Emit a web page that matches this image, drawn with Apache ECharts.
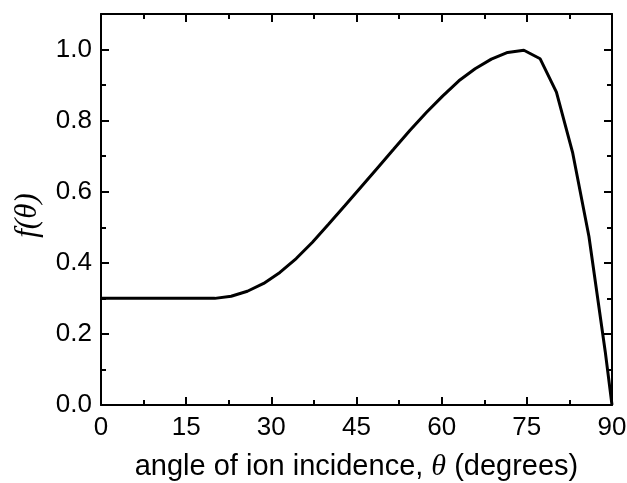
<!DOCTYPE html>
<html>
<head>
<meta charset="utf-8">
<script src="https://cdn.jsdelivr.net/npm/echarts@6/dist/echarts.min.js"></script>
<style>html,body{margin:0;padding:0;background:#fff}#c{width:627px;height:483px}</style>
</head>
<body>
<div id="c"></div>
<script>
// angle of ion incidence (degrees)
var angles = [0, 2.86, 5.73, 8.59, 11.46, 14.32, 17.19, 20.05, 22.92, 25.78, 28.65, 31.51, 34.38, 37.24, 40.11, 42.97, 45.84, 48.70, 51.57, 54.43, 57.30, 60.16, 63.03, 65.89, 68.75, 71.62, 74.48, 77.35, 80.21, 83.08, 85.94, 88.81, 90];
// f(theta)
var fvals = [0.3, 0.3, 0.3, 0.3, 0.3, 0.3, 0.3, 0.3, 0.306, 0.320, 0.342, 0.373, 0.412, 0.458, 0.509, 0.561, 0.614, 0.667, 0.720, 0.773, 0.823, 0.869, 0.912, 0.946, 0.973, 0.992, 0.998, 0.974, 0.880, 0.709, 0.474, 0.15, 0];
var xTicks = [0, 15, 30, 45, 60, 75, 90];
var yTicks = [0.0, 0.2, 0.4, 0.6, 0.8, 1.0];

var data = angles.map(function (a, i) { return [a, fvals[i]]; });
var sans = 'Liberation Sans, Arial, sans-serif';
var serif = 'Liberation Serif, Times New Roman, serif';
var lineStyle = { color: '#000', width: 2 };

function xAx(pos, labels) {
  return {
    type: 'value', position: pos, min: 0, max: 90, interval: 15,
    axisLine: { show: true, onZero: false, lineStyle: lineStyle },
    axisTick: { show: true, inside: true, length: 8, lineStyle: lineStyle },
    minorTick: { show: true, splitNumber: 2, length: 5, lineStyle: lineStyle },
    splitLine: { show: false }, minorSplitLine: { show: false },
    axisLabel: labels ? { color: '#000', fontSize: 26, fontFamily: sans, margin: 10,
      formatter: function (v) { return xTicks.indexOf(v) >= 0 ? String(v) : ''; } } : { show: false }
  };
}
function yAx(pos, labels) {
  return {
    type: 'value', position: pos, min: 0, max: 1.1, interval: 0.2,
    axisLine: { show: true, onZero: false, lineStyle: lineStyle },
    axisTick: { show: true, inside: true, length: 8, lineStyle: lineStyle },
    minorTick: { show: true, splitNumber: 2, length: 5, lineStyle: lineStyle },
    splitLine: { show: false }, minorSplitLine: { show: false },
    axisLabel: labels ? { color: '#000', fontSize: 26, fontFamily: sans, margin: 9,
      formatter: function (v) {
        for (var i = 0; i < yTicks.length; i++) { if (Math.abs(yTicks[i] - v) < 1e-6) return yTicks[i].toFixed(1); }
        return '';
      } } : { show: false }
  };
}

var xb = xAx('bottom', true);
xb.name = '{a|angle of ion incidence, }{t|θ}{a| (degrees)}';
xb.nameLocation = 'middle';
xb.nameGap = 47;
xb.nameTextStyle = { rich: {
  a: { fontSize: 29, fontFamily: sans, color: '#000' },
  t: { fontSize: 30, fontFamily: serif, fontStyle: 'italic', color: '#000' } } };
var yl = yAx('left', true);
yl.name = '{t|f(θ)}';
yl.nameLocation = 'middle';
yl.nameGap = 58;
yl.nameRotate = 90;
yl.nameTextStyle = { padding: [0, 12, 0, 0], rich: { t: { fontSize: 31, fontFamily: serif, fontStyle: 'italic', color: '#000' } } };

var chart = echarts.init(document.getElementById('c'), null, { renderer: 'canvas' });
chart.setOption({
  animation: false,
  backgroundColor: '#fff',
  grid: { left: 101, right: 15, top: 14, bottom: 78, containLabel: false, outerBoundsMode: 'none' },
  xAxis: [xb, xAx('top', false)],
  yAxis: [yl, yAx('right', false)],
  series: [{
    type: 'line', data: data, showSymbol: false, smooth: false,
    xAxisIndex: 0, yAxisIndex: 0,
    lineStyle: { color: '#000', width: 3 }, clip: false
  }, {
    type: 'line', data: [], xAxisIndex: 1, yAxisIndex: 1, showSymbol: false
  }]
});
</script>
</body>
</html>
